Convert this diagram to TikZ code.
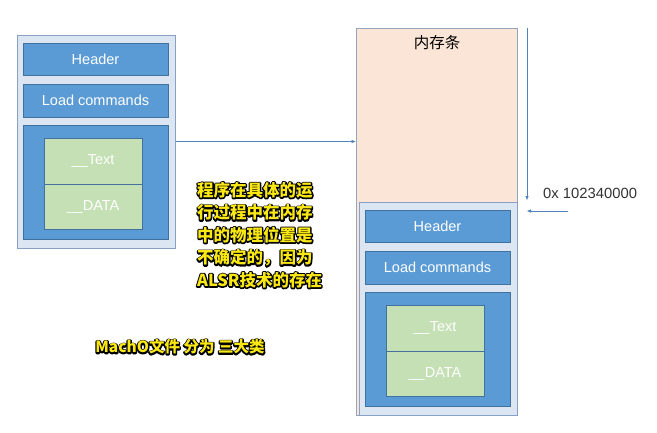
\documentclass[tikz,border=0pt]{standalone}
\usepackage{fontspec}
\setmainfont{Liberation Sans}
\newfontfamily\cjk{Noto Sans CJK SC}
\usetikzlibrary{arrows.meta}
\definecolor{outerfill}{RGB}{220,229,242}
\definecolor{outerdraw}{RGB}{135,160,195}
\definecolor{bluefill}{RGB}{91,155,213}
\definecolor{bluedraw}{RGB}{65,113,156}
\definecolor{greenfill}{RGB}{197,224,180}
\definecolor{memfill}{RGB}{251,229,214}
\definecolor{memdraw}{RGB}{150,165,190}
\definecolor{arrowcol}{RGB}{80,130,190}
\definecolor{subyellow}{RGB}{250,232,20}
\definecolor{labelgrey}{RGB}{50,50,50}
% black outline drawn behind the yellow letters (hidden from text extraction)
\newcommand\outlback[1]{\special{pdf:literal direct /Span<</ActualText()>>BDC 1 Tr 2.6 w 1 j 0 0 0 RG}#1\special{pdf:literal direct 0 Tr EMC}}
\newcommand\outl[1]{\leavevmode\rlap{\outlback{#1}}#1}
\tikzset{
  outerbox/.style={draw=outerdraw, fill=outerfill, line width=1pt, minimum width=158pt, minimum height=213pt, inner sep=0pt},
  bluebox/.style={draw=bluedraw, fill=bluefill, line width=0.8pt, minimum width=145pt, inner sep=0pt, text=white, font=\fontsize{14.5}{17}\selectfont},
  greenbox/.style={draw=bluedraw, fill=greenfill, line width=0.8pt, minimum width=98pt, inner sep=0pt, text=white, font=\fontsize{14.5}{17}\selectfont},
  memstrip/.style={draw=memdraw, fill=memfill, line width=1pt, minimum width=161pt, minimum height=387pt, inner sep=0pt},
  conn/.style={draw=arrowcol, line width=0.8pt, -{Triangle[length=4pt,width=3pt]}},
  subtitle/.style={text=subyellow, inner sep=0pt, font=\cjk\bfseries\fontsize{16.5}{22.5}\selectfont}
}
\begin{document}
\begin{tikzpicture}[x=1pt,y=-1pt]
\useasboundingbox (0,0) rectangle (657,432);
% memory strip
\node[memstrip] (mem) at (436.5,221.5) {};
\node[font=\cjk\fontsize{15.5}{18}\selectfont, inner sep=0pt] (memlabel) at (437,43) {内存条};
% left Mach-O
\node[outerbox] (louter) at (96,141.5) {};
\node[bluebox, minimum height=32pt] (lheader) at (95.5,59) {Header};
\node[bluebox, minimum height=33pt] (lload) at (95.5,100.5) {Load commands};
\node[bluebox, minimum height=114pt] (lbig) at (95.5,182) {};
\node[greenbox, minimum height=46pt] (ltext) at (93,161) {\_\_Text};
\node[greenbox, minimum height=45pt] (ldata) at (93,206.5) {\_\_DATA};
% right Mach-O
\node[outerbox] (router) at (438,308.5) {};
\node[bluebox, minimum height=32pt] (rheader) at (437.5,226) {Header};
\node[bluebox, minimum height=33pt] (rload) at (437.5,267.5) {Load commands};
\node[bluebox, minimum height=114pt] (rbig) at (437.5,349) {};
\node[greenbox, minimum height=46pt] (rtext) at (435,328) {\_\_Text};
\node[greenbox, minimum height=45pt] (rdata) at (435,373.5) {\_\_DATA};
% arrows
\draw[conn] (louter.east) -- (louter.east -| mem.west);
\coordinate (vtop) at (527,28);
\coordinate (vbot) at (527,200);
\draw[conn] (vtop) -- (vbot);
\coordinate (hstart) at (568,211);
\coordinate (hend) at (527,211);
\draw[conn] (hstart) -- (hend);
\node[anchor=west, inner sep=0pt, text=labelgrey, font=\fontsize{14.8}{17}\selectfont] (addr) at (543,193) {0x 102340000};
% subtitles
\node[subtitle, anchor=north west, align=left] (note) at (197,182) {\outl{程序在具体的运}\\\outl{行过程中在内存}\\\outl{中的物理位置是}\\\outl{不确定的，因为}\\\outl{ALSR技术的存在}};
\node[subtitle, font=\cjk\bfseries\fontsize{15.5}{18}\selectfont] (macho) at (180,347) {\outl{MachO文件 分为 三大类}};
\end{tikzpicture}
\end{document}
